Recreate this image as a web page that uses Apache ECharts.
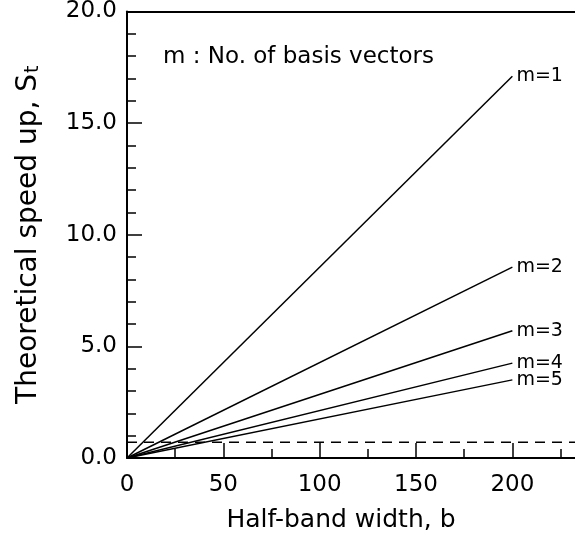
<!DOCTYPE html>
<html>
<head>
<meta charset="utf-8">
<style>
  html, body { margin: 0; padding: 0; background: #fff; }
  #miGrafica { width: 575px; height: 538px; }
</style>
<script src="https://cdn.jsdelivr.net/npm/echarts@6/dist/echarts.min.js"></script>
</head>
<body>
<div id="miGrafica"></div>
<script>
// Speed up teórico frente a semiancho de banda

var bandWidth = [0, 200];
var speedM1 = [0, 17.1];
var speedM2 = [0, 8.55];
var speedM3 = [0, 5.7];
var speedM4 = [0, 4.25];
var speedM5 = [0, 3.5];
var lineNames = ['m=1', 'm=2', 'm=3', 'm=4', 'm=5'];
var baselineX = [0, 232.5];
var baselineY = [0.7, 0.7];
var xMajorTicks = [0, 50, 100, 150, 200];
var xMinorTicks = [25, 75, 125, 175, 225];

var fuente = 'DejaVu Sans';
var xMax = 232.5;

function pares(xs, ys) {
    return xs.map(function (x, i) { return [x, ys[i]]; });
}

var curvas = [speedM1, speedM2, speedM3, speedM4, speedM5];

var series = curvas.map(function (ys, i) {
    return {
        name: lineNames[i],
        type: 'line',
        data: pares(bandWidth, ys),
        symbol: 'none',
        silent: true,
        lineStyle: { color: '#000', width: 1.5 },
        endLabel: {
            show: true,
            formatter: lineNames[i],
            distance: 4,
            color: '#000',
            fontSize: 19,
            fontFamily: fuente
        }
    };
});

series.push({
    type: 'line',
    data: pares(baselineX, baselineY),
    symbol: 'none',
    silent: true,
    lineStyle: { color: '#000', width: 1.5, type: [10, 7] }
});

var dom = document.getElementById('miGrafica');
var myChart = echarts.init(dom, null, { renderer: 'canvas' });

var option = {
    animation: false,
    backgroundColor: '#fff',
    title: {
        text: 'm : No. of basis vectors',
        left: 158,
        top: 41,
        textStyle: { color: '#000', fontSize: 23, fontWeight: 'normal', fontFamily: fuente }
    },
    grid: {
        left: 127,
        top: 11,
        right: 0,
        bottom: 79
    },
    xAxis: [
        {
            type: 'value',
            min: 0,
            max: xMax,
            name: 'Half-band width, b',
            nameLocation: 'middle',
            nameGap: 50,
            nameTextStyle: { color: '#000', fontSize: 25, fontFamily: fuente, padding: [0, 20, 0, 0] },
            axisLine: { lineStyle: { color: '#000', width: 2 } },
            axisTick: { inside: true, length: 15, customValues: xMajorTicks, lineStyle: { color: '#000', width: 1.5 } },
            axisLabel: { color: '#000', fontSize: 23, fontFamily: fuente, margin: 16, customValues: xMajorTicks },
            splitLine: { show: false }
        },
        {
            // borde superior
            type: 'value',
            position: 'top',
            min: 0,
            max: xMax,
            axisLine: { show: true, lineStyle: { color: '#000', width: 2 } },
            axisTick: { show: false },
            axisLabel: { show: false },
            splitLine: { show: false }
        },
        {
            // marcas menores cada 25
            type: 'value',
            position: 'bottom',
            min: 0,
            max: xMax,
            axisLine: { show: false },
            axisTick: { show: true, inside: true, length: 9, customValues: xMinorTicks, lineStyle: { color: '#000', width: 1.5 } },
            axisLabel: { show: false },
            splitLine: { show: false }
        }
    ],
    yAxis: {
        type: 'value',
        min: 0,
        max: 20,
        interval: 5,
        name: 'Theoretical speed up, S{t|t}',
        nameLocation: 'middle',
        nameGap: 84,
        nameTextStyle: {
            color: '#000',
            fontSize: 28,
            fontFamily: fuente,
            rich: {
                t: { fontSize: 19, fontFamily: fuente, color: '#000', verticalAlign: 'bottom', padding: [10, 0, 0, 1] }
            }
        },
        axisLine: { show: true, lineStyle: { color: '#000', width: 2 } },
        axisTick: { inside: true, length: 15, lineStyle: { color: '#000', width: 1.5 } },
        minorTick: { show: true, splitNumber: 5, length: 9, lineStyle: { color: '#000', width: 1.5 } },
        axisLabel: {
            color: '#000',
            fontSize: 23,
            fontFamily: fuente,
            margin: 10,
            formatter: function (v) { return v.toFixed(1); }
        },
        splitLine: { show: false }
    },
    series: series
};

myChart.setOption(option);

window.addEventListener('resize', myChart.resize);
</script>
</body>
</html>
